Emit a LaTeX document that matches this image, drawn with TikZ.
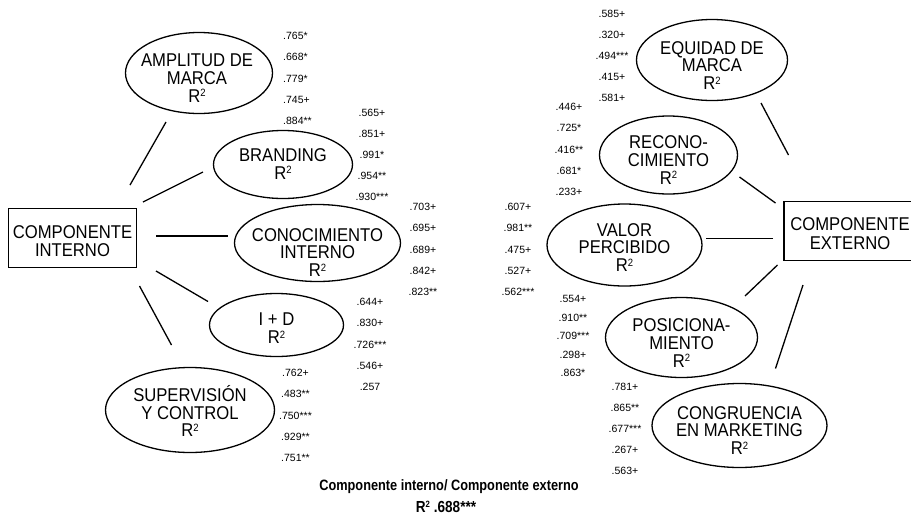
\documentclass[tikz,border=0pt]{standalone}
\usepackage{fontspec}
\setmainfont{Liberation Sans}[FakeStretch=0.9]
\newfontfamily\numfont{Liberation Sans}
\newfontfamily\botfont{Liberation Sans}[FakeStretch=0.85]
\usetikzlibrary{shapes.geometric}
\newcommand\Rsq{R\raisebox{0.3em}{\scalebox{0.57}{2}}}
\begin{document}
\begin{tikzpicture}[x=1pt,y=-1pt,
  ell/.style={draw, ellipse, line width=1.3pt, inner sep=0pt},
  lbl/.style={align=center, inner sep=0pt, font=\fontsize{18.5}{17.8}\selectfont},
  boxlbl/.style={align=center, inner sep=0pt, font=\fontsize{18.5}{18.5}\selectfont},
  num/.style={inner sep=0pt, font=\numfont\fontsize{10.5}{12}\selectfont},
  bx/.style={draw, rectangle, line width=1.3pt, inner sep=0pt},
  link/.style={line width=1.3pt},
]
\useasboundingbox (0,0) rectangle (911,515);

% ---------- boxes ----------
\node[bx, minimum width=128pt, minimum height=59pt] (ci) at (72.5,238) {};
\node[boxlbl] (ciT) at (72.5,241.2) {COMPONENTE\\INTERNO};
\node[bx, minimum width=152pt, minimum height=59pt] (ce) at (860,231) {};
\node[boxlbl] (ceT) at (850,233.7) {COMPONENTE\\EXTERNO};

% ---------- left ellipses ----------
\node[ell, minimum width=147pt, minimum height=81pt] (amp) at (199,73) {};
\node[lbl] (ampT) at (197,78) {AMPLITUD DE\\MARCA\\\Rsq};
\node[ell, minimum width=139pt, minimum height=68pt] (bra) at (283,164.5) {};
\node[lbl] (braT) at (283,164) {BRANDING\\\Rsq};
\node[ell, minimum width=166pt, minimum height=77pt] (con) at (317.5,243) {};
\node[lbl] (conT) at (317.5,252.5) {CONOCIMIENTO\\INTERNO\\\Rsq};
\node[ell, minimum width=134pt, minimum height=63pt] (iyd) at (276.5,325) {};
\node[lbl] (iydT) at (276.5,328.3) {I + D\\\Rsq};
\node[ell, minimum width=169pt, minimum height=85pt] (sup) at (190,410) {};
\node[lbl] (supT) at (190,411) {SUPERVISIÓN\\Y CONTROL\\\Rsq};

% ---------- right ellipses ----------
\node[ell, minimum width=151pt, minimum height=81pt] (equ) at (712,60) {};
\node[lbl] (equT) at (712,65.5) {EQUIDAD DE\\MARCA\\\Rsq};
\node[ell, minimum width=138pt, minimum height=78pt] (rec) at (668.5,155) {};
\node[lbl] (recT) at (668.5,160) {RECONO-\\CIMIENTO\\\Rsq};
\node[ell, minimum width=155pt, minimum height=82pt] (val) at (624.5,245) {};
\node[lbl] (valT) at (624.5,247.5) {VALOR\\PERCIBIDO\\\Rsq};
\node[ell, minimum width=152pt, minimum height=80pt] (pos) at (681.5,337.5) {};
\node[lbl] (posT) at (681.5,342.8) {POSICIONA-\\MIENTO\\\Rsq};
\node[ell, minimum width=175pt, minimum height=84pt] (cng) at (739.5,425.5) {};
\node[lbl] (cngT) at (739.5,430.5) {CONGRUENCIA\\EN MARKETING\\\Rsq};

% ---------- connectors ----------
\coordinate (a1) at (130,185);   \coordinate (a2) at (166,122);
\coordinate (b1) at (143,202);   \coordinate (b2) at (203,172);
\coordinate (c1) at (156,236);   \coordinate (c2) at (228,236);
\coordinate (d1) at (156,271);   \coordinate (d2) at (208,301.5);
\coordinate (e1) at (139.5,286); \coordinate (e2) at (171.5,345);
\draw[link] (a1) -- (a2);
\draw[link] (b1) -- (b2);
\draw[link] (c1) -- (c2);
\draw[link] (d1) -- (d2);
\draw[link] (e1) -- (e2);

\coordinate (f1) at (788.5,155); \coordinate (f2) at (761,103);
\coordinate (g1) at (775.5,203); \coordinate (g2) at (739.5,177);
\coordinate (h1) at (773,238.5); \coordinate (h2) at (706,238.5);
\coordinate (i1) at (777.5,265); \coordinate (i2) at (745,296);
\coordinate (j1) at (803,285);   \coordinate (j2) at (775.5,368.5);
\draw[link] (f1) -- (f2);
\draw[link] (g1) -- (g2);
\draw[link] (h1) -- (h2);
\draw[link] (i1) -- (i2);
\draw[link] (j1) -- (j2);

% ---------- loadings ----------
\foreach \v [count=\i] in {.765*,.668*,.779*,.745+,.884**}
  \node[num, anchor=west] (nA\i) at (283,{36+21.2*(\i-1)}) {\v};
\foreach \v [count=\i] in {.565+,.851+,.991*,.954**,.930***}
  \node[num] (nB\i) at (372,{113+21*(\i-1)}) {\v};
\foreach \v [count=\i] in {.703+,.695+,.689+,.842+,.823**}
  \node[num] (nC\i) at (423,{207+21.2*(\i-1)}) {\v};
\foreach \v [count=\i] in {.644+,.830+,.726***,.546+,.257}
  \node[num] (nD\i) at (370,{302+21.2*(\i-1)}) {\v};
\foreach \v [count=\i] in {.762+,.483**,.750***,.929**,.751**}
  \node[num] (nE\i) at (295.5,{373+21.2*(\i-1)}) {\v};
\foreach \v [count=\i] in {.585+,.320+,.494***,.415+,.581+}
  \node[num] (nF\i) at (612,{13.5+21.1*(\i-1)}) {\v};
\foreach \v [count=\i] in {.446+,.725*,.416**,.681*,.233+}
  \node[num] (nG\i) at (569,{107+21.2*(\i-1)}) {\v};
\foreach \v [count=\i] in {.607+,.981**,.475+,.527+,.562***}
  \node[num] (nH\i) at (518,{207+21.3*(\i-1)}) {\v};
\foreach \v [count=\i] in {.554+,.910**,.709***,.298+,.863*}
  \node[num] (nI\i) at (573,{299+18.5*(\i-1)}) {\v};
\foreach \v [count=\i] in {.781+,.865**,.677***,.267+,.563+}
  \node[num] (nJ\i) at (625,{386.5+21.2*(\i-1)}) {\v};

% ---------- bottom text ----------
\node[inner sep=0pt, font=\botfont\bfseries\fontsize{15}{18}\selectfont] (bt1) at (449,487) {Componente interno/ Componente externo};
\node[inner sep=0pt, font=\botfont\bfseries\fontsize{16}{18}\selectfont] (bt2) at (446,506.5) {\Rsq\ .688***};
\end{tikzpicture}
\end{document}
